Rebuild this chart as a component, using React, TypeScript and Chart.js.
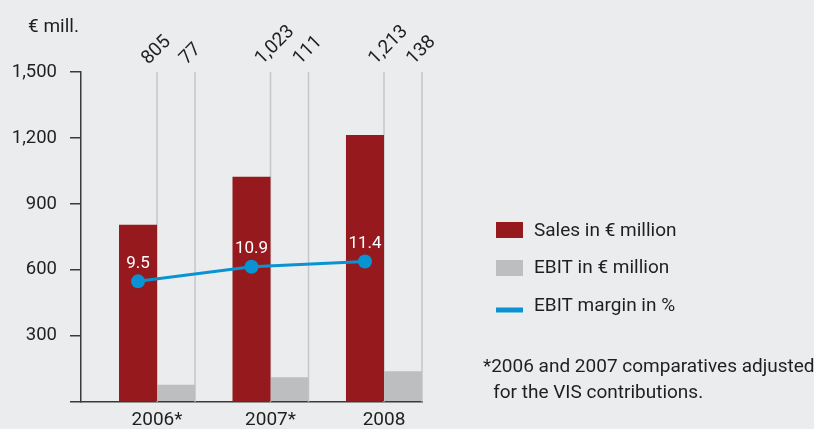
import React, { useEffect, useRef } from 'react';
import { Chart, registerables } from 'chart.js';

Chart.register(...registerables);

// ---- data ----
const categories = ['2006*', '2007*', '2008'];
const salesValues = [805, 1023, 1213];
const ebitValues = [77, 111, 138];
const marginValues = [9.5, 10.9, 11.4];
const yTickValues = [0, 300, 600, 900, 1200, 1500];
const seriesLabels = ['Sales in € million', 'EBIT in € million', 'EBIT margin in %'];
const unitLabel = '€ mill.';
const footnoteLines = ['*2006 and 2007 comparatives adjusted', 'for the VIS contributions.'];

// ---- style ----
const FONT = "Roboto, 'Open Sans', sans-serif";
const TEXT = '#1f1f1f';
const AXIS = '#3a3a3a';
const RED = '#95191d';
const GRAY = '#bdbec0';
const BLUE = '#0a93d2';
const GUIDE = '#c6c7c8';
const BG = '#ebeced';
const CAT_PCT = 0.67;

const overlayPlugin = {
  id: 'overlay',
  beforeDatasetsDraw(chart: any) {
    const { ctx, chartArea } = chart;
    ctx.save();
    ctx.strokeStyle = GUIDE;
    ctx.lineWidth = 1.5;
    [0, 1].forEach((di) => {
      chart.getDatasetMeta(di).data.forEach((bar: any) => {
        const x = bar.x + bar.width / 2;
        ctx.beginPath();
        ctx.moveTo(x, chartArea.top);
        ctx.lineTo(x, chartArea.bottom);
        ctx.stroke();
      });
    });
    ctx.restore();
  },
  afterDatasetsDraw(chart: any) {
    const { ctx, chartArea } = chart;
    ctx.save();
    // rotated value labels above guides
    ctx.fillStyle = TEXT;
    ctx.font = `19px ${FONT}`;
    ctx.textAlign = 'left';
    ctx.textBaseline = 'alphabetic';
    [0, 1].forEach((di) => {
      const ds = chart.data.datasets[di];
      chart.getDatasetMeta(di).data.forEach((bar: any, i: number) => {
        const x = bar.x + bar.width / 2;
        const v = (ds.data[i] as any).y as number;
        ctx.save();
        ctx.translate(x - 8.5, chartArea.top - 7);
        ctx.rotate(-Math.PI / 4);
        ctx.fillText(v.toLocaleString('en-US'), 0, 0);
        ctx.restore();
      });
    });
    // margin labels
    ctx.font = `17px ${FONT}`;
    ctx.fillStyle = '#ffffff';
    ctx.textAlign = 'center';
    ctx.textBaseline = 'middle';
    const lds = chart.data.datasets[2];
    chart.getDatasetMeta(2).data.forEach((pt: any, i: number) => {
      const v = (lds.data[i] as any).y as number;
      ctx.fillText(v.toFixed(1), pt.x, pt.y - 18);
    });
    ctx.restore();
  },
  afterDraw(chart: any) {
    const { ctx } = chart;
    ctx.save();
    ctx.font = `19px ${FONT}`;
    ctx.fillStyle = TEXT;
    ctx.textBaseline = 'middle';
    ctx.textAlign = 'left';
    // unit label
    ctx.fillText(unitLabel, 28, 27);
    // legend
    const ds = chart.data.datasets;
    ctx.fillStyle = ds[0].backgroundColor;
    ctx.fillRect(496, 222, 27, 16);
    ctx.fillStyle = ds[1].backgroundColor;
    ctx.fillRect(496, 260, 27, 16);
    ctx.fillStyle = ds[2].borderColor;
    ctx.fillRect(496, 307.5, 27, 5);
    ctx.fillStyle = TEXT;
    ctx.fillText(seriesLabels[0], 534, 231);
    ctx.fillText(seriesLabels[1], 534, 268.5);
    ctx.fillText(seriesLabels[2], 534, 306);
    // footnote
    const indent = ctx.measureText('*').width;
    ctx.fillText(footnoteLines[0], 483, 367);
    ctx.fillText(footnoteLines[1], 483 + indent + 2, 393);
    ctx.restore();
  },
};

export default function App() {
  const ref = useRef<HTMLCanvasElement | null>(null);

  useEffect(() => {
    if (!ref.current) return;
    const lineShift = CAT_PCT / 4;
    const chart = new Chart(ref.current, {
      type: 'bar',
      data: {
        datasets: [
          {
            type: 'bar',
            label: seriesLabels[0],
            data: salesValues.map((v, i) => ({ x: i, y: v })),
            backgroundColor: RED,
            borderWidth: 0,
            yAxisID: 'y',
            order: 1,
          },
          {
            type: 'bar',
            label: seriesLabels[1],
            data: ebitValues.map((v, i) => ({ x: i, y: v })),
            backgroundColor: GRAY,
            borderWidth: 0,
            yAxisID: 'y',
            order: 2,
          },
          {
            type: 'line',
            label: seriesLabels[2],
            data: marginValues.map((v, i) => ({ x: i - lineShift, y: v })),
            borderColor: BLUE,
            backgroundColor: BLUE,
            borderWidth: 3,
            pointRadius: 7,
            pointBackgroundColor: BLUE,
            pointBorderWidth: 0,
            tension: 0,
            yAxisID: 'y2',
            order: 0,
          } as any,
        ],
      },
      options: {
        responsive: false,
        animation: false,
        devicePixelRatio: 1,
        layout: { padding: { left: 0, right: 392, top: 72, bottom: 0 } },
        datasets: {
          bar: { categoryPercentage: CAT_PCT, barPercentage: 1 },
        } as any,
        plugins: {
          legend: { display: false },
          tooltip: { enabled: false },
        },
        scales: {
          x: {
            type: 'linear',
            min: -0.67,
            max: 2.335,
            offset: false,
            grid: { display: false, drawTicks: false },
            border: { display: true, color: AXIS, width: 1.5 },
            afterBuildTicks: (scale: any) => {
              scale.ticks = categories.map((_, i) => ({ value: i }));
            },
            afterFit: (scale: any) => {
              scale.height = 27.3;
            },
            ticks: {
              padding: 7,
              color: TEXT,
              font: { family: FONT, size: 19 },
              maxRotation: 0,
              autoSkip: false,
              callback: (v: any) => categories[Math.round(Number(v))] ?? '',
            },
          },
          y: {
            type: 'linear',
            position: 'left',
            min: 0,
            max: 1500,
            grid: { drawOnChartArea: false, drawTicks: true, tickLength: 11, color: AXIS, lineWidth: 1.5 },
            border: { display: true, color: AXIS, width: 1.5 },
            afterBuildTicks: (scale: any) => {
              scale.ticks = yTickValues.map((v) => ({ value: v }));
            },
            afterFit: (scale: any) => {
              scale.width = 81;
            },
            ticks: {
              padding: 13,
              color: TEXT,
              font: { family: FONT, size: 18.5 },
              callback: (v: any) => (Number(v) === 0 ? '' : Number(v).toLocaleString('en-US')),
            },
          },
          y2: {
            type: 'linear',
            position: 'right',
            display: false,
            min: -2,
            max: 29.5,
          },
        },
      } as any,
      plugins: [overlayPlugin],
    });
    return () => chart.destroy();
  }, []);

  return (
    <div style={{ position: 'fixed', left: 0, top: 0, width: 814, height: 429, background: BG, overflow: 'hidden' }}>
      <canvas ref={ref} width={814} height={429} style={{ display: 'block', width: 814, height: 429 }} />
    </div>
  );
}
